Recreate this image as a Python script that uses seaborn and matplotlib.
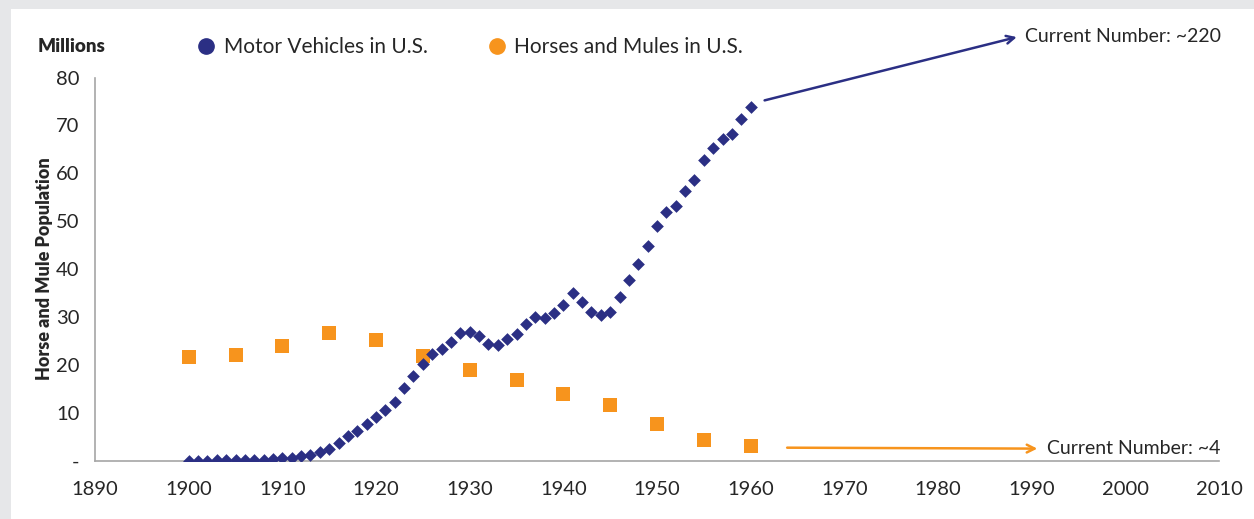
import matplotlib.pyplot as plt
import seaborn as sns
import pandas as pd
from matplotlib.lines import Line2D
from matplotlib.patches import Rectangle

# motor vehicle registrations, millions, one per year 1900-1960
mv_years = list(range(1900, 1961))
mv_values = [0.01, 0.02, 0.02, 0.03, 0.06, 0.08, 0.11, 0.14, 0.2, 0.31,
             0.47, 0.64, 0.94, 1.26, 1.76, 2.49, 3.6, 5.1, 6.2, 7.6,
             9.2, 10.5, 12.3, 15.1, 17.6, 20.1, 22.2, 23.3, 24.7, 26.7,
             26.8, 26.1, 24.4, 24.1, 25.3, 26.5, 28.5, 29.9, 29.7, 30.9,
             32.4, 35.0, 33.1, 31.0, 30.4, 31.0, 34.2, 37.8, 41.0, 44.9,
             49.1, 52.0, 53.2, 56.4, 58.6, 62.8, 65.2, 67.1, 68.3, 71.4, 73.9]

# horses and mules, millions, every 5 years
hm_years = [1900, 1905, 1910, 1915, 1920, 1925, 1930, 1935, 1940, 1945, 1950, 1955, 1960]
hm_values = [21.6, 22.0, 24.0, 26.6, 25.2, 21.9, 19.0, 16.8, 14.0, 11.6, 7.7, 4.4, 3.0]

x_ticks = list(range(1890, 2011, 10))
y_ticks = list(range(0, 81, 10))
y_labels = ["-"] + [str(v) for v in y_ticks[1:]]

navy = "#2b2f84"
orange = "#f7941d"
axis_gray = "#a6a6a6"

sns.set_style("white")
plt.rcParams["font.family"] = ["Lato", "DejaVu Sans"]

mv = pd.DataFrame({"year": mv_years, "value": mv_values})
hm = pd.DataFrame({"year": hm_years, "value": hm_values})

fig = plt.figure(figsize=(12.54, 5.19), dpi=100)
fig.patch.set_facecolor("#e6e7e9")
fig.patches.append(Rectangle((11 / 1254, 0), 1, 1 - 9 / 519, transform=fig.transFigure,
                             facecolor="white", edgecolor="none", zorder=-10))
ax = fig.add_axes([95 / 1254, 1 - 460.6 / 519, (1219 - 95) / 1254, (460.6 - 77.6) / 519])
ax.set_facecolor("none")

sns.scatterplot(data=hm, x="year", y="value", marker="s", s=110, color=orange,
                edgecolor=orange, linewidth=0, ax=ax, zorder=3)
sns.scatterplot(data=mv, x="year", y="value", marker="D", s=42, color=navy,
                edgecolor=navy, linewidth=0, ax=ax, zorder=4)

ax.set_xlim(1890, 2010)
ax.set_ylim(0, 80)
ax.set_xticks(x_ticks)
ax.set_yticks(y_ticks)
ax.set_yticklabels(y_labels)
ax.set_xlabel("")
ax.set_ylabel("Horse and Mule Population", fontsize=13, fontweight="heavy", labelpad=2)
ax.tick_params(axis="both", labelsize=14.5, length=5, width=1, color=axis_gray,
               direction="out", pad=6)
ax.tick_params(axis="x", pad=10)
for side in ["top", "right"]:
    ax.spines[side].set_visible(False)
for side in ["left", "bottom"]:
    ax.spines[side].set_color(axis_gray)
    ax.spines[side].set_linewidth(1.2)
ax.grid(False)

# arrows towards the current numbers
ax.annotate("", xy=(1988.7, 88.6), xytext=(1961.2, 75.1), annotation_clip=False,
            arrowprops=dict(arrowstyle="->", color=navy, lw=1.8, mutation_scale=14))
ax.text(1989.3, 88.6, "Current Number: ~220", fontsize=14, va="center", ha="left",
        clip_on=False)
ax.annotate("", xy=(1990.9, 2.5), xytext=(1963.6, 2.7), annotation_clip=False,
            arrowprops=dict(arrowstyle="->", color=orange, lw=1.8, mutation_scale=14))
ax.text(1991.6, 2.5, "Current Number: ~4", fontsize=14, va="center", ha="left",
        clip_on=False)

fig.text(38 / 1254, 1 - 46 / 519, "Millions", fontsize=13.5, fontweight="heavy",
         ha="left", va="center")

handles = [Line2D([], [], marker="o", linestyle="none", color=navy, markersize=11),
           Line2D([], [], marker="o", linestyle="none", color=orange, markersize=11)]
fig.legend(handles, ["Motor Vehicles in U.S.", "Horses and Mules in U.S."],
           loc="center left", bbox_to_anchor=(175 / 1254, 1 - 47 / 519), ncol=2,
           frameon=False, fontsize=15, handletextpad=0.25, columnspacing=2.7,
           handlelength=1.2)

fig.savefig("out.png", dpi=100, facecolor=fig.get_facecolor())
